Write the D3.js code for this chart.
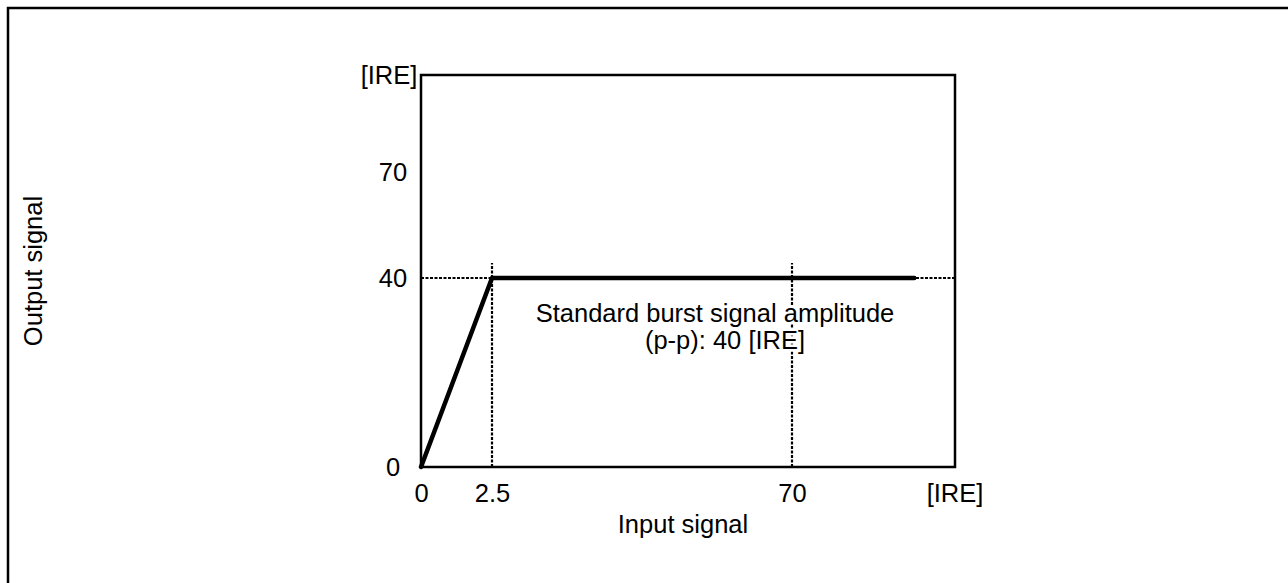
<!DOCTYPE html>
<html><head><meta charset="utf-8">
<script src="https://cdn.jsdelivr.net/npm/d3@7"></script>
<style>body{margin:0;background:#fff}svg{display:block}text{font-family:"Liberation Sans",Arial,sans-serif;fill:#000}</style>
</head><body><svg id="c" width="1288" height="583"></svg>
<script>
// Data
const xTicks = [0, 2.5, 70];
const yTicks = [0, 40, 70];
const unitLabel = "[IRE]";
const curveX = [0, 2.5, 85];
const curveY = [0, 40, 40];
const refX = [2.5, 70];
const refY = [40];
const xLabel = "Input signal";
const yLabel = "Output signal";
const noteLines = ["Standard burst signal amplitude", "(p-p): 40 [IRE]"];

const FS = 25.5;
const svg = d3.select("#c");
// outer frame (only top/left visible)
svg.append("rect").attr("x",8).attr("y",8).attr("width",1300).attr("height",600)
  .attr("fill","none").attr("stroke","#000").attr("stroke-width",2.5);

const x = d3.scaleLinear().domain([0, 2.5, 70, 90]).range([421, 492, 792, 955]);
const y = d3.scaleLinear().domain([0, 40, 70, 100]).range([467, 278, 172, 75]);
const [x0,x1] = [x(0), x(90)], [y0,y1] = [y(0), y(100)];

// dotted reference lines
const dash = "3,1.5";
svg.selectAll(".rh").data(refY).enter().append("line")
  .attr("x1",x0).attr("x2",x1).attr("y1",d=>y(d)).attr("y2",d=>y(d))
  .attr("stroke","#000").attr("stroke-width",2.2).attr("stroke-dasharray",dash);
svg.selectAll(".rv").data(refX).enter().append("line")
  .attr("x1",d=>x(d)).attr("x2",d=>x(d)).attr("y1",y0).attr("y2",y(40)-15)
  .attr("stroke","#000").attr("stroke-width",2.2).attr("stroke-dasharray",dash);

// note text with white halo
const note = svg.append("text").attr("font-size",FS).attr("text-anchor","middle");
note.selectAll("tspan").data(noteLines).enter().append("tspan")
  .attr("x",(d,i)=> i===0 ? 715 : 725).attr("y",(d,i)=>322+i*27).text(d=>d)
  .attr("stroke","#fff").attr("stroke-width",5).attr("paint-order","stroke").style("fill","#000");

// plot box
svg.append("rect").attr("x",x0).attr("y",y1).attr("width",x1-x0).attr("height",y0-y1)
  .attr("fill","none").attr("stroke","#000").attr("stroke-width",2.5);

// curve
svg.append("path").datum(curveX.map((v,i)=>[v,curveY[i]]))
  .attr("d", d3.line().x(d=>x(d[0])).y(d=>y(d[1])))
  .attr("fill","none").attr("stroke","#000").attr("stroke-width",4.5)
  .attr("stroke-linejoin","round").attr("stroke-linecap","round");

// axes using d3 axis generators, then style
const xAxis = svg.append("g").attr("transform",`translate(0,${y0})`)
  .call(d3.axisBottom(x).tickValues(xTicks).tickFormat(d=>String(d)).tickSize(0));
const yAxis = svg.append("g").attr("transform",`translate(${x0},0)`)
  .call(d3.axisLeft(y).tickValues(yTicks).tickFormat(d=>String(d)).tickSize(0));
[xAxis,yAxis].forEach(g=>{g.select(".domain").remove();
  g.selectAll("text").attr("font-size",FS).attr("font-family","Liberation Sans, Arial, sans-serif").attr("fill","#000");});
yAxis.selectAll("text").attr("text-anchor","middle").attr("x",-28).attr("dy","0.35em");
xAxis.selectAll("text").attr("dy",0).attr("y",35);

// unit labels
svg.append("text").attr("x",x1).attr("y",y0+35).attr("font-size",FS).attr("text-anchor","middle").text(unitLabel);
svg.append("text").attr("x",389).attr("y",y1).attr("dy","0.35em").attr("font-size",FS).attr("text-anchor","middle").text(unitLabel);

// axis titles
svg.append("text").attr("x",683).attr("y",533).attr("font-size",FS).attr("text-anchor","middle").text(xLabel);
svg.append("text").attr("transform",`translate(42,${(y0+y1)/2}) rotate(-90)`).attr("font-size",FS).attr("text-anchor","middle").text(yLabel);
</script></body></html>
